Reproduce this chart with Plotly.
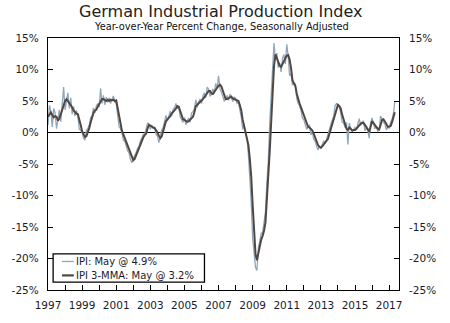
import plotly.graph_objects as go

# Monthly year-over-year % change, Jan 1997 .. May 2017
ipi = [
    1.2, 4.3, 3.4, 0.9, 3.8, 3.1, 0.6, 2.0, 3.6, 1.7, 4.5, 7.2,      # 1997
    3.6, 4.9, 6.3, 3.8, 5.5, 2.9, 4.1, 2.6, 3.5, 2.7, 0.5, 0.4,      # 1998
    -0.1, -0.9, -1.2, 0.3, 0.6, 1.2, 2.4, 2.6, 3.9, 3.1, 4.2, 4.6,   # 1999
    4.0, 7.0, 4.6, 5.9, 4.4, 5.6, 4.8, 5.5, 4.6, 5.3, 5.8, 4.9,      # 2000
    4.6, 2.8, 0.9, 0.6, 0.0, -1.2, -1.4, -2.1, -2.9, -3.2, -4.3, -4.8,  # 2001
    -4.1, -3.6, -3.2, -2.5, -2.3, -1.3, -0.9, -0.3, -0.5, 0.4, 1.5, 1.4,  # 2002
    0.5, 1.2, 0.6, 0.9, -0.3, -0.5, -1.6, -0.6, 0.4, 0.8, 1.8, 2.7,  # 2003
    1.8, 2.5, 3.4, 2.6, 3.7, 3.9, 4.6, 3.8, 4.2, 2.5, 2.0, 1.6,      # 2004
    2.4, 1.2, 1.9, 2.3, 1.6, 3.1, 3.3, 3.8, 5.2, 4.0, 4.9, 5.3,      # 2005
    4.6, 5.8, 6.3, 5.5, 7.2, 6.9, 5.8, 6.0, 6.9, 6.2, 7.8, 7.0,      # 2006
    9.0, 6.9, 6.4, 5.8, 5.0, 5.2, 5.9, 5.1, 6.1, 5.5, 4.9, 5.6,      # 2007
    5.5, 4.6, 4.9, 3.6, 2.4, 0.5, 1.3, -0.2, -0.9, -3.5, -6.8, -11.2,  # 2008
    -16.8, -19.9, -21.4, -21.9, -18.4, -17.2, -16.0, -15.9, -14.4, -12.6, -8.0, -4.5,  # 2009
    1.5, 6.0, 11.8, 14.2, 11.5, 12.6, 10.3, 11.0, 9.6, 11.7, 12.4, 10.9,  # 2010
    14.0, 12.1, 9.0, 9.4, 7.5, 7.9, 7.7, 5.4, 4.6, 4.3, 3.5, 2.3,    # 2011
    2.0, 1.4, 0.5, 0.9, 1.2, -0.4, 0.1, -1.1, -1.4, -2.2, -2.8, -2.1,  # 2012
    -2.6, -1.9, -1.3, -1.8, -0.9, -0.2, 0.5, 1.3, 1.9, 2.6, 4.3, 4.6,  # 2013
    4.3, 4.0, 3.0, 1.6, 1.5, 0.8, 1.6, -1.9, 1.5, 0.6, 0.2, 0.4,     # 2014
    0.8, 0.5, 1.4, 2.2, 1.1, 1.7, 1.8, 0.3, 0.7, 0.4, -0.9, 1.5,     # 2015
    2.3, 1.2, 0.6, 1.0, 0.2, 0.4, 2.6, 2.2, 1.6, 1.4, 0.4, 0.8,      # 2016
    0.7, 1.6, 2.1, 2.9, 4.9,                                         # 2017
]

ipi_3mma = [
    2.5, 2.9, 3.2, 2.8, 2.4, 2.6, 2.5, 1.9, 2.2, 2.9, 3.6, 4.2,      # 1997
    5.0, 5.3, 5.0, 4.6, 4.4, 4.0, 3.5, 3.2, 3.0, 2.9, 2.2, 1.2,      # 1998
    0.2, -0.3, -0.7, -0.6, 0.0, 0.7, 1.6, 2.4, 3.1, 3.5, 3.6, 4.1,   # 1999
    4.5, 4.9, 5.3, 5.3, 5.2, 5.0, 5.2, 5.0, 5.2, 5.1, 5.2, 5.0,      # 2000
    5.1, 4.0, 2.6, 1.2, 0.3, -0.3, -0.9, -1.6, -2.3, -2.9, -3.5, -4.1,  # 2001
    -4.4, -4.2, -3.6, -3.1, -2.6, -2.0, -1.4, -0.8, -0.4, -0.2, 0.6, 1.2,  # 2002
    1.1, 0.9, 0.8, 0.7, 0.4, 0.0, -0.5, -0.9, -0.6, 0.2, 1.0, 1.8,   # 2003
    2.1, 2.3, 2.6, 3.0, 3.2, 3.5, 3.8, 4.2, 4.1, 3.3, 2.6, 2.1,      # 2004
    2.0, 1.8, 1.7, 1.8, 2.0, 2.2, 2.5, 3.2, 4.2, 4.4, 4.6, 4.8,      # 2005
    5.0, 5.3, 5.6, 6.0, 6.3, 6.6, 6.6, 6.2, 6.1, 6.5, 6.9, 7.1,      # 2006
    7.4, 7.6, 7.3, 6.6, 5.7, 5.3, 5.3, 5.4, 5.6, 5.7, 5.4, 5.3,      # 2007
    5.3, 5.2, 5.0, 4.3, 3.5, 2.0, 1.0, 0.5, -0.6, -2.0, -4.2, -7.0,  # 2008
    -11.5, -16.0, -19.3, -20.3, -19.3, -17.8, -17.0, -16.4, -15.6, -14.3, -11.0, -8.0,  # 2009
    -3.0, 1.5, 6.5, 10.5, 12.4, 11.8, 11.2, 10.6, 10.4, 10.8, 11.2, 11.7,  # 2010
    12.2, 12.3, 11.6, 10.2, 8.3, 7.8, 7.4, 6.2, 5.2, 4.6, 4.0, 3.4,  # 2011
    2.6, 1.9, 1.3, 0.9, 0.8, 0.6, 0.3, -0.2, -0.8, -1.5, -2.0, -2.3,  # 2012
    -2.4, -2.2, -1.9, -1.6, -1.4, -1.0, -0.2, 0.6, 1.2, 2.0, 3.0, 4.0,  # 2013
    4.4, 4.2, 3.8, 2.8, 2.0, 1.3, 0.6, 0.4, 0.8, 0.6, 0.3, 0.4,      # 2014
    0.4, 0.6, 0.9, 1.2, 1.4, 1.5, 1.5, 1.2, 0.9, 0.5, 0.1, 0.9,      # 2015
    1.8, 1.5, 1.1, 0.9, 0.6, 0.5, 1.2, 2.0, 2.1, 1.8, 1.4, 0.9,      # 2016
    0.9, 1.0, 1.6, 2.3, 3.2,                                         # 2017
]

start_year = 1997
dates = [start_year + i / 12 for i in range(len(ipi))]

year_ticks = list(range(1997, 2018))
year_labels = [str(y) if (y - 1997) % 2 == 0 else "" for y in year_ticks]
pct_ticks = [15, 10, 5, 0, -5, -10, -15, -20, -25]
pct_labels = [f"{v}%" for v in pct_ticks]

legend_labels = ["IPI: May @ 4.9%", "IPI 3-MMA: May @ 3.2%"]

IPI_COLOR = "#8ea7bd"
MMA_COLOR = "#524740"
FONT = "Verdana, DejaVu Sans, sans-serif"
TEXT = "#1a1a2a"

fig = go.Figure()
fig.add_trace(go.Scatter(x=dates, y=ipi, mode="lines",
                         line=dict(color=IPI_COLOR, width=1.3),
                         name=legend_labels[0], showlegend=False))
fig.add_trace(go.Scatter(x=dates, y=ipi_3mma, mode="lines",
                         line=dict(color=MMA_COLOR, width=2),
                         name=legend_labels[1], showlegend=False))
# carrier for the right-hand percent axis
fig.add_trace(go.Scatter(x=[dates[0]], y=[None], yaxis="y2",
                         showlegend=False, hoverinfo="skip"))

fig.update_layout(
    width=450, height=323,
    margin=dict(l=43, r=51, t=38, b=22, pad=0),
    paper_bgcolor="white", plot_bgcolor="white",
    font=dict(family=FONT, size=10, color=TEXT),
    showlegend=False,
    xaxis=dict(
        range=[1997, 2017.58], tickmode="array",
        tickvals=year_ticks, ticktext=year_labels,
        ticks="inside", ticklen=5, tickwidth=1, tickcolor="black",
        showline=True, linecolor="black", linewidth=1.3, mirror=True,
        showgrid=False, zeroline=False,
        tickfont=dict(size=10.5, color=TEXT), ticklabelstandoff=5,
    ),
    yaxis=dict(
        range=[-25, 15], tickmode="array",
        tickvals=pct_ticks, ticktext=pct_labels,
        ticks="inside", ticklen=5, tickwidth=1, tickcolor="black",
        showline=True, linecolor="black", linewidth=1.3, mirror="ticks",
        showgrid=False, zeroline=True, zerolinecolor="black", zerolinewidth=1.3,
        tickfont=dict(size=10.5, color=TEXT), ticklabelstandoff=6,
    ),
    yaxis2=dict(
        range=[-25, 15], overlaying="y", side="right", tickmode="array",
        tickvals=pct_ticks, ticktext=pct_labels,
        ticks="", showline=False, showgrid=False, zeroline=False,
        tickfont=dict(size=10.5, color=TEXT), ticklabelstandoff=9,
    ),
)


def px_x(p):
    return (p - 43.3) / 356


def px_y(p):
    return (300.7 - p) / 262.4


# Titles
fig.add_annotation(text="German Industrial Production Index", xref="paper", yref="paper",
                   x=px_x(219), y=px_y(11), showarrow=False,
                   xanchor="center", yanchor="middle",
                   font=dict(size=16, color="#222222", family=FONT))
fig.add_annotation(text="Year-over-Year Percent Change, Seasonally Adjusted",
                   xref="paper", yref="paper",
                   x=px_x(219), y=px_y(26), showarrow=False,
                   xanchor="center", yanchor="middle",
                   font=dict(size=9.8, color="#111111", family=FONT))

# Hand-built legend box in the lower left corner
fig.add_shape(type="rect", xref="paper", yref="paper",
              x0=px_x(48.5), x1=px_x(202), y0=px_y(292.5), y1=px_y(263),
              line=dict(color="black", width=1.3), fillcolor="white", layer="above")
for label, color, width, ypix in [(legend_labels[0], IPI_COLOR, 1.3, 271),
                                  (legend_labels[1], MMA_COLOR, 2.2, 285.5)]:
    fig.add_shape(type="line", xref="paper", yref="paper",
                  x0=px_x(57.5), x1=px_x(69.5), y0=px_y(ypix), y1=px_y(ypix),
                  line=dict(color=color, width=width), layer="above")
    fig.add_annotation(text=label, xref="paper", yref="paper",
                       x=px_x(69.5), y=px_y(ypix), showarrow=False,
                       xanchor="left", yanchor="middle",
                       font=dict(size=10, color=TEXT, family=FONT))

fig.write_html("out.html")
